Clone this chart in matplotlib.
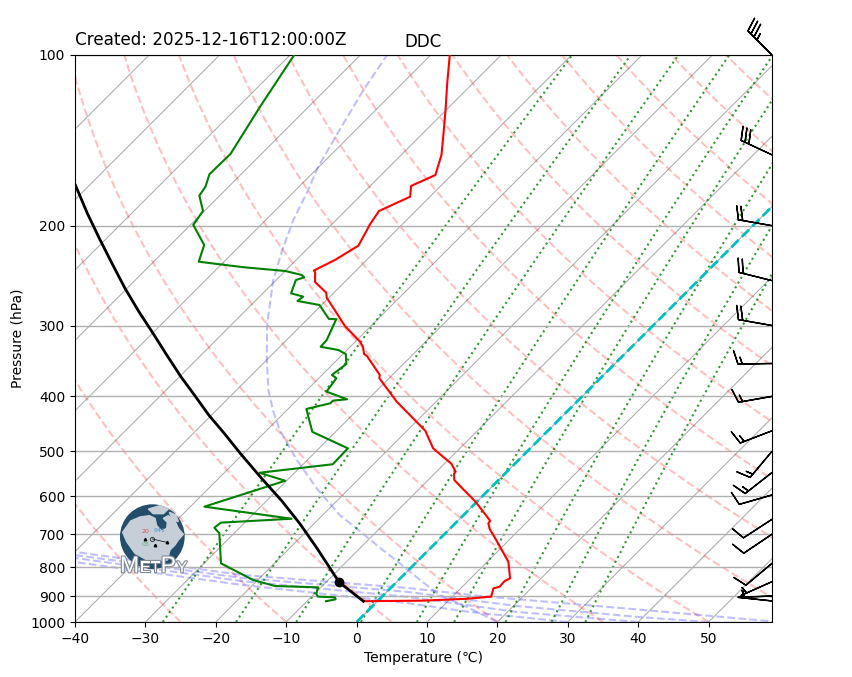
import numpy as np
import matplotlib
matplotlib.use("Agg")
import matplotlib.pyplot as plt
import matplotlib.patheffects as pe
from matplotlib.patches import Circle, Polygon
from matplotlib.ticker import FixedLocator, NullLocator, ScalarFormatter
from matplotlib.transforms import Affine2D

# sounding
p_temp = [919, 917, 910, 902, 872, 866.5, 847, 837.6, 783, 717, 685.5, 670, 663, 613.5, 582.6, 561.7,
          548, 543, 526, 494, 460, 408.7, 371.6, 366.7, 339.6, 336.8, 327, 320.5, 300.6, 276, 268,
          262.5, 251.4, 241.4, 240, 229.9, 216.9, 198.6, 188.4, 177.8, 170.2, 162.8, 150, 137.3,
          125, 112, 100]
temp = [-2.0, 6.3, 12.4, 15.5, 14.65, 15.3, 15.2, 15.6, 13.0, 8.2, 5.7, 4.7, 4.6, -0.2, -3.8, -6.3,
        -7.2, -7.3, -9.0, -13.8, -17.4, -25.6, -31.4, -31.8, -36.3, -37.0, -38.2, -39.3, -43.7,
        -48.6, -50.3, -51.1, -54.2, -55.6, -56.0, -54.5, -53.2, -54.6, -55.2, -52.8, -54.2, -52.3,
        -54.3, -57.1, -60.1, -63.7, -67.3]

p_dew = [919, 912, 904.5, 902, 892.5, 868.7, 864, 843, 788, 697.5, 681.8, 668, 657.5, 626, 563.5,
         545.5, 527, 494, 462, 421, 411.4, 407, 404.7, 392.4, 371.6, 366.7, 350.8, 336.8, 331.4,
         327, 318.2, 292.4, 292, 276, 271.5, 266.8, 263.2, 249.4, 246.7, 244.3, 240.4, 236.8,
         231.5, 216.3, 199.4, 188.4, 177, 170.7, 162.3, 149.4, 123.4, 100]
dewpoint = [-7.3, -6.2, -6.6, -9.1, -9.7, -10.4, -16.7, -20.7, -27.6, -32.1, -33.6, -33.4, -23.9,
            -38.0, -30.2, -35.0, -25.8, -25.9, -33.3, -37.4, -34.8, -34.8, -33.0, -37.0, -37.5,
            -38.6, -38.1, -39.6, -41.2, -44.2, -44.3, -45.9, -47.0, -50.3, -54.0, -53.8, -56.0,
            -57.2, -56.4, -57.1, -60.0, -66.4, -73.6, -75.2, -79.6, -80.2, -82.9, -83.3, -84.5,
            -84.4, -86.9, -89.4]

p_parcel = [919, 850, 804, 740, 670, 611.8, 558, 504, 464.8, 431.5, 397.7, 369.3, 338.1, 307.6,
            283.6, 257.9, 231.7, 210.3, 190.2, 169.6]
t_parcel = [-2.0, -8.2, -11.4, -16.2, -22.1, -27.8, -33.9, -40.5, -45.6, -50.4, -55.3, -59.8,
            -64.9, -70.3, -75.0, -80.3, -86.0, -91.1, -96.3, -102]
p_lcl = 850
t_lcl = -8.2

# wind
p_wind = [100, 150, 200, 250, 300, 350, 400, 460, 500, 545, 597, 659, 700, 788, 849, 900, 918]
wind_speed = [35, 30, 20, 20, 20, 15, 15, 15, 15, 15, 10, 10, 10, 10, 5, 5, 5]
wind_dir = [315, 295, 280, 284, 280, 269, 260, 249, 220, 232, 254, 237, 236, 230, 246, 268, 276]

# moist adiabats as drawn on the reference
moist_p = {
    20: [1000, 945, 896, 833, 787, 740, 691, 647.5, 582.6, 518, 483.3, 458.5, 422.8, 389.7, 340.9,
         299.4, 250.4, 220.8, 195.4, 174.4, 157.6, 139.5, 115.3, 100],
    30: [1000, 960, 926, 860, 784],
    40: [1000, 960, 903, 847, 771],
    50: [1000, 980, 937, 885, 836, 762],
    60: [1000, 952, 903, 871, 826, 752.6],
}
moist_t = {
    20: [20, 14.0, 7.9, 2.1, -2.3, -7.2, -12.5, -17.6, -24.5, -31.5, -35.3, -38.2, -42.0, -45.5, -50.4,
         -54.9, -60.3, -63.4, -66.1, -68.1, -70.1, -71.9, -74.6, -76.2],
    30: [30, 14.6, 4.5, -21.6, -48.5],
    40: [40, 21.3, 3.7, -22.1, -49.1],
    50: [50, 39.4, 20.4, 3.0, -22.6, -49.5],
    60: [60, 38.9, 15.3, 2.4, -23.0, -49.9],
}

# background lines
isotherms = np.arange(-110, 60, 10)
dry_t0 = np.arange(-40, 201, 15)
mixing_ratios = [0.0004, 0.001, 0.002, 0.004, 0.007, 0.01, 0.016, 0.024, 0.032]
x_ticks = np.arange(-40, 51, 10)
p_ticks = [100, 200, 300, 400, 500, 600, 700, 800, 900, 1000]

W, H = 852, 677
fig = plt.figure(figsize=(W / 100, H / 100), dpi=100)
ax = fig.add_axes([75 / W, 55 / H, 697 / W, 567 / H])
ax.set_yscale("log")
ax.set_xlim(-40, 59)
ax.set_ylim(1000, 100)
ax.set_autoscale_on(False)

# 45 degree skew about the bottom of the axes
skew = Affine2D().translate(0, -55).skew_deg(45, 0).translate(0, 55)
tr = ax.transData + skew

ax.yaxis.set_major_locator(FixedLocator(p_ticks))
ax.yaxis.set_major_formatter(ScalarFormatter())
ax.yaxis.set_minor_locator(NullLocator())
ax.set_xticks(x_ticks)
ax.grid(True, axis="y", color="#b0b0b0", linewidth=1.0)

p_line = np.linspace(1000, 100, 200)
for t in isotherms:
    ax.plot([t, t], [1000, 100], color="#b0b0b0", lw=0.8, transform=tr, zorder=1)

for t0 in dry_t0:
    theta = t0 + 273.15
    ax.plot(theta * (p_line / 1000) ** 0.2857 - 273.15, p_line, color="r", ls="--", lw=1.5,
            alpha=0.25, transform=tr, zorder=1.2)

for t0 in moist_p:
    ax.plot(moist_t[t0], moist_p[t0], color="b", ls="--", lw=1.5, alpha=0.25, transform=tr, zorder=1.2)

for w in mixing_ratios:
    e = w * p_line / (0.622 + w)
    lg = np.log(e / 6.112)
    ax.plot(243.5 * lg / (17.67 - lg), p_line, color="g", ls=":", lw=1.5, alpha=0.8, transform=tr, zorder=1.3)

ax.plot([0, 0], [1000, 100], color="c", ls="--", lw=2, transform=tr, zorder=2)
ax.plot(temp, p_temp, color="r", lw=1.5, transform=tr, zorder=3)
ax.plot(dewpoint, p_dew, color="g", lw=1.5, transform=tr, zorder=3)
ax.plot(t_parcel, p_parcel, color="k", lw=2, transform=tr, zorder=3)
ax.plot([t_lcl], [p_lcl], "ko", transform=tr, zorder=4)

rad = np.deg2rad(wind_dir)
u = -np.array(wind_speed) * np.sin(rad)
v = -np.array(wind_speed) * np.cos(rad)
ax.barbs(np.ones(len(p_wind)), p_wind, u, v, transform=ax.get_yaxis_transform(), clip_on=False, zorder=5)

ax.set_xlabel("Temperature (℃)")
ax.set_ylabel("Pressure (hPa)")
ax.set_title("DDC")
ax.text(0, 1.0185, "Created: 2025-12-16T12:00:00Z", transform=ax.transAxes, fontsize=12.1,
        ha="left", va="baseline")

# MetPy logo, drawn in the 270x270 frame of the logo area
logo = fig.add_axes([110 / W, (H - 585) / H, 90 / W, 90 / H], zorder=10)
logo.set_xlim(0, 270)
logo.set_ylim(270, 0)
logo.axis("off")
logo.add_patch(Circle((127, 125), 95, color="#234e6b", clip_on=False))
land_color = "#c6cfd8"
logo.add_patch(Polygon([(38, 112), (62, 78), (90, 66), (118, 62), (135, 70), (140, 92), (155, 108),
                        (170, 100), (172, 82), (160, 70), (175, 62), (195, 78), (205, 100), (220, 118),
                        (205, 135), (195, 150), (180, 165), (172, 195), (120, 200), (75, 175), (50, 140)],
                       color=land_color))
logo.add_patch(Polygon([(115, 42), (150, 32), (175, 42), (160, 56), (130, 56)], color=land_color))
logo.add_patch(Polygon([(178, 52), (198, 60), (205, 80), (188, 74)], color=land_color))
logo.text(105, 109, "20", color="#e0504a", fontsize=4.5, ha="center", va="center")
logo.text(150, 108, "941", color="#4a8fd0", fontsize=4.5, ha="center", va="center")
logo.text(105, 150, "08", color="#5fb070", fontsize=4.5, ha="center", va="center")
logo.plot([127, 170], [132, 142], color="k", lw=0.5)
logo.plot([127], [132], "o", ms=3, mfc="none", mec="k", mew=0.5)
logo.plot([105, 135, 172], [132, 150, 140], "k^", ms=1.8)

stroke = [pe.withStroke(linewidth=1.6, foreground="#7f8a96")]
for ch, xpos, size in [("M", 30, 16.5), ("E", 90, 11.5), ("T", 122, 11.5), ("P", 152, 16.5), ("Y", 200, 11.5)]:
    logo.text(xpos, 232, ch, color="white", fontsize=size, ha="left", va="baseline",
              family="Liberation Sans", path_effects=stroke, clip_on=False)

fig.savefig("out.png", dpi=100)
